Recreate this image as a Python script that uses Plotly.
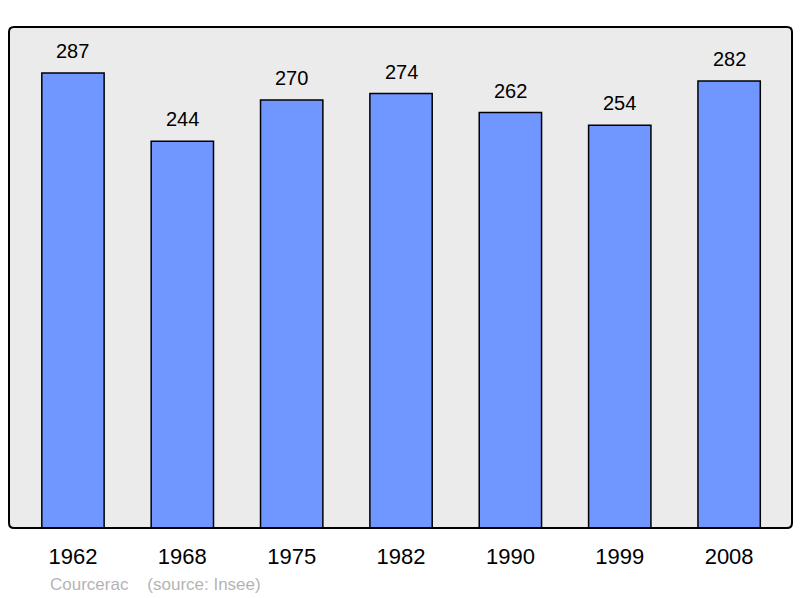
import plotly.graph_objects as go

years = ["1962", "1968", "1975", "1982", "1990", "1999", "2008"]
population = [287, 244, 270, 274, 262, 254, 282]
commune = "Courcerac"
source = "(source: Insee)"

W, H = 800, 598
ml, mr, mt, mb = 9, 8, 27, 70
pw, ph = W - ml - mr, H - mt - mb
FONT = "Liberation Sans, Arial, sans-serif"

fig = go.Figure()
fig.add_trace(go.Bar(
    x=years, y=population, width=0.57,
    marker=dict(color="#7096ff", line=dict(color="#000000", width=1.5)),
    hoverinfo="skip",
))

for i, v in enumerate(population):
    fig.add_annotation(x=i, y=v, xref="x", yref="y", text=str(v), showarrow=False,
                       yanchor="bottom", yshift=9,
                       font=dict(family=FONT, size=20, color="#000"))

# rounded frame
rx, ry = 5 / pw, 5 / ph
path = (f"M {rx},0 L {1-rx},0 Q 1,0 1,{ry} L 1,{1-ry} Q 1,1 {1-rx},1 "
        f"L {rx},1 Q 0,1 0,{1-ry} L 0,{ry} Q 0,0 {rx},0 Z")
fig.add_shape(type="path", xref="paper", yref="paper", path=path,
              line=dict(color="#000000", width=2), layer="above")

fig.add_annotation(xref="paper", yref="paper", x=(49 - ml) / pw, y=-(584 - mt - ph) / ph,
                   text=commune + "&nbsp;&nbsp;&nbsp;&nbsp;" + source, showarrow=False,
                   xanchor="left", yanchor="middle", xshift=-1,
                   font=dict(family=FONT, size=17, color="#b4b4b4"))

fig.update_layout(
    width=W, height=H,
    margin=dict(l=ml, r=mr, t=mt, b=mb),
    paper_bgcolor="#ffffff", plot_bgcolor="#ebebeb",
    showlegend=False,
    xaxis=dict(type="category", range=[-0.585, 6.575], showgrid=False, zeroline=False,
               ticks="outside", ticklen=9, tickcolor="rgba(0,0,0,0)",
               tickfont=dict(family=FONT, size=22, color="#000")),
    yaxis=dict(range=[0, 316], showgrid=False, zeroline=False, showticklabels=False),
)

fig.write_html("out.html", config={"displayModeBar": False},
               post_script="document.body.style.margin='0';document.body.style.overflow='hidden';")
